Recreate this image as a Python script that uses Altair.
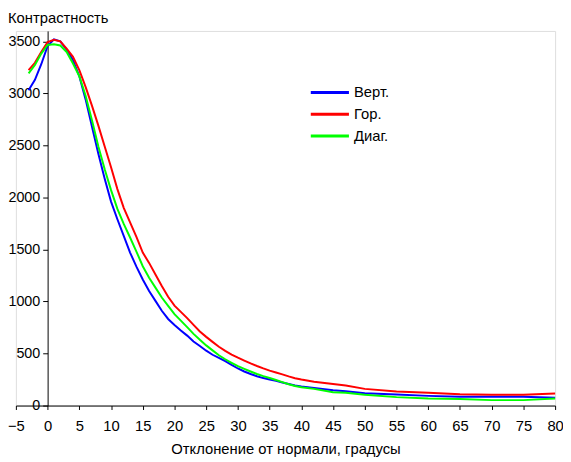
import altair as alt
import pandas as pd

angles = list(range(-3, 41)) + [42, 45, 47, 50, 55, 60, 65, 70, 75, 80]

vert = [3030, 3130, 3280, 3455, 3520, 3500, 3420, 3320, 3165, 2940,
        2680, 2420, 2180, 1960, 1790, 1630, 1470, 1335, 1212, 1101,
        1006, 911, 832, 775, 722, 672, 616, 572, 527, 488,
        458, 426, 390, 356, 327, 303, 282, 264, 250, 237,
        222, 207, 192, 183,
        168, 147, 138, 119, 106, 93, 84, 84, 84, 74]

hor = [3224, 3294, 3398, 3493, 3515, 3500, 3430, 3351, 3224, 3060,
       2880, 2690, 2490, 2290, 2080, 1900, 1760, 1620, 1470, 1371,
       1260, 1148, 1045, 960, 900, 840, 775, 712, 660, 612,
       565, 525, 490, 460, 432, 405, 380, 357, 336, 318,
       300, 280, 263, 250,
       228, 207, 192, 160, 135, 122, 109, 103, 103, 116]

diag = [3192, 3272, 3382, 3465, 3472, 3460, 3398, 3287, 3165, 2975,
        2740, 2490, 2270, 2070, 1890, 1745, 1615, 1480, 1339, 1228,
        1133, 1038, 958, 879, 816, 753, 689, 632, 578, 530,
        483, 445, 411, 378, 352, 327, 303, 283, 265, 245,
        225, 205, 188, 176,
        160, 128, 122, 103, 81, 68, 62, 52, 52, 68]

series_names = ["Верт.", "Гор.", "Диаг."]
series_colors = ["#0000ff", "#ff0000", "#00ff00"]
x_ticks = list(range(-5, 81, 5))
y_ticks = list(range(0, 3501, 500))

rows = []
for name, vals in zip(series_names, [vert, hor, diag]):
    for a, v in zip(angles, vals):
        rows.append({"angle": a, "value": v, "series": name})
df = pd.DataFrame(rows)

FONT = "Liberation Sans"

lines = alt.Chart(df).mark_line(strokeWidth=2).encode(
    x=alt.X("angle:Q",
            scale=alt.Scale(domain=[-5, 80], nice=False, zero=False),
            axis=alt.Axis(values=x_ticks, title="Отклонение от нормали, градусы",
                          format="d",
                          grid=False, domainColor="black", tickColor="black",
                          tickSize=4, labelPadding=9, labelFontSize=15,
                          labelColor="black", labelFont=FONT, labelFlush=False,
                          titleFont=FONT, titleFontSize=15, titleFontWeight="normal",
                          titleColor="black", titleY=49, titleBaseline="alphabetic")),
    y=alt.Y("value:Q",
            scale=alt.Scale(domain=[0, 3600], nice=False),
            axis=alt.Axis(values=y_ticks, title=None, grid=False, offset=-32.2,
                          format="d",
                          domainColor="black", tickColor="black", tickSize=5,
                          labelPadding=3, labelFontSize=14.5, labelColor="black",
                          labelFont=FONT, labelFlush=False)),
    color=alt.Color("series:N",
                    scale=alt.Scale(domain=series_names, range=series_colors),
                    sort=series_names,
                    legend=alt.Legend(title=None, orient="none", legendX=308, legendY=52,
                                      symbolType="M-2.15,0H2.15", symbolSize=324,
                                      symbolStrokeWidth=3, labelOffset=14,
                                      labelFontSize=15, labelFont=FONT, labelColor="black",
                                      rowPadding=3, padding=0)),
)

ytitle = alt.Chart(pd.DataFrame({"t": ["Контрастность"]})).mark_text(
    align="left", baseline="middle", font=FONT, fontSize=15, color="black"
).encode(x=alt.value(-8), y=alt.value(-13.5), text="t:N")

chart = alt.layer(lines, ytitle).properties(
    width=547, height=380,
    padding={"left": 8, "top": 20, "right": 8, "bottom": 54},
    autosize=alt.AutoSizeParams(type="none"),
).configure_view(stroke=None).configure(background="white")

chart.save("out.html", embed_options={"renderer": "svg", "actions": False})
